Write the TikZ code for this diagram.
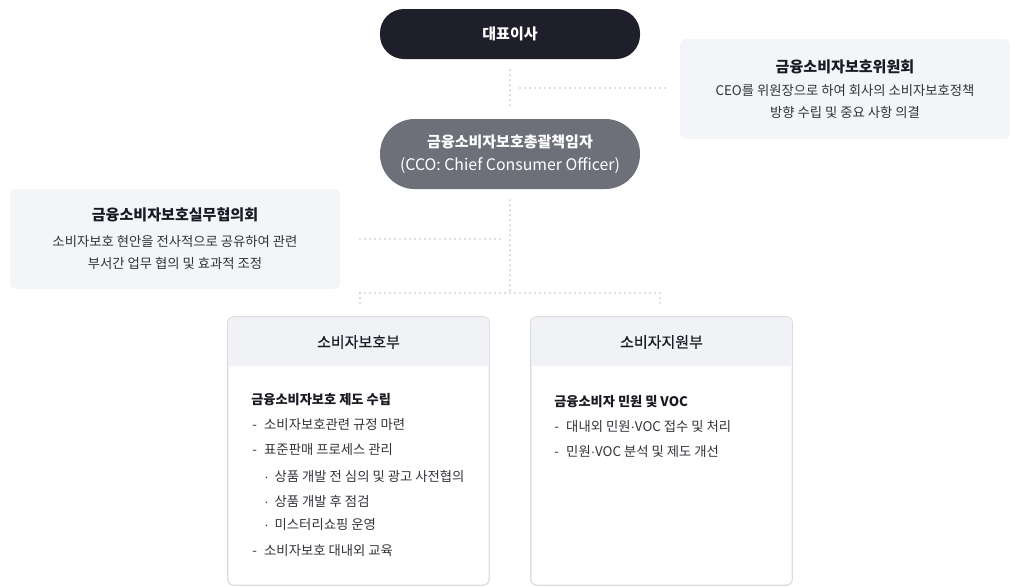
\documentclass[tikz,border=0pt]{standalone}
\usepackage{fontspec}
\setmainfont{Noto Sans CJK KR}
\newfontfamily\medfont[FakeBold=0.5]{Noto Sans CJK KR}
\newfontfamily\markfont{Liberation Sans}
\newcommand{\mdot}{{\markfont ·}}
\usetikzlibrary{positioning}
\definecolor{CeoDark}{RGB}{30,31,43}
\definecolor{CcoGray}{RGB}{110,112,121}
\definecolor{PanelFill}{RGB}{244,245,248}
\definecolor{HeadFill}{RGB}{241,242,246}
\definecolor{EdgeGray}{RGB}{220,221,226}
\definecolor{DotGray}{RGB}{210,211,216}
\definecolor{TitleInk}{RGB}{26,27,34}
\definecolor{BodyInk}{RGB}{50,51,58}

\begin{document}
\begin{tikzpicture}[x=0.75pt,y=-0.75pt,
    pill/.style={rounded corners=18pt,minimum width=195pt,text=white,
                 align=center,inner sep=0pt},
    panel/.style={fill=PanelFill,rounded corners=4.5pt,
                  minimum width=247.5pt,minimum height=75pt,inner sep=0pt},
    dept/.style={draw=EdgeGray,line width=0.6pt,rounded corners=4.5pt,
                 minimum width=195.75pt,minimum height=201pt,inner sep=0pt},
    ptitle/.style={font=\fontsize{11.3}{12}\selectfont\bfseries,text=TitleInk},
    pdesc/.style={font=\fontsize{10}{16.5}\selectfont,text=BodyInk,align=center},
    htitle/.style={font=\fontsize{11.25}{13}\selectfont\medfont,text=TitleInk},
    item/.style={anchor=west,inner sep=0pt,font=\fontsize{10}{12}\selectfont,text=BodyInk},
    ititle/.style={anchor=west,inner sep=0pt,font=\fontsize{9.9}{12}\selectfont\bfseries,text=TitleInk},
    dotline/.style={DotGray,line width=1.6pt,line cap=round,
                    dash pattern=on 0pt off 3.75pt}]
  \useasboundingbox (0,0) rectangle (1020,586);

  % top of the chart
  \node[pill,fill=CeoDark,minimum height=37.5pt,
        font=\fontsize{11.25}{13}\selectfont\bfseries] (ceo) at (510,34) {대표이사};
  \node[pill,fill=CcoGray,minimum height=52.5pt,rounded corners=26pt,
        font=\fontsize{11.25}{17}\selectfont] (cco) at (510,154)
        {\textbf{금융소비자보호총괄책임자}\\{\fontsize{11.9}{17}\selectfont(CCO: Chief Consumer Officer)}};

  % committees
  \node[panel] (cmte) at (845,89) {};
  \node[ptitle] (cmtet) at (845,67) {금융소비자보호위원회};
  \node[pdesc] (cmted) at (845,102) {CEO를 위원장으로 하여 회사의 소비자보호정책\\방향 수립 및 중요 사항 의결};
  \node[panel] (cncl) at (175,239) {};
  \node[ptitle] (cnclt) at (175,215) {금융소비자보호실무협의회};
  \node[pdesc] (cncld) at (175,253) {소비자보호 현안을 전사적으로 공유하여 관련\\부서간 업무 협의 및 효과적 조정};

  % departments
  \node[dept] (dep1) at (358.5,451) {};
  \node[dept] (dep2) at (661.5,451) {};
  \foreach \d in {dep1,dep2}{
    \begin{scope}
      \clip[rounded corners=4.5pt] (\d.south west) rectangle (\d.north east);
      \fill[HeadFill] (\d.north west) rectangle ([yshift=-36.75pt]\d.north east);
    \end{scope}
    \draw[EdgeGray,line width=0.6pt,rounded corners=4.5pt]
      (\d.south west) rectangle (\d.north east);
  }
  \node[htitle] (h1) at (358.5,342) {소비자보호부};
  \node[htitle] (h2) at (661.5,342) {소비자지원부};

  \node[ititle] (a0) at (251,400) {금융소비자보호 제도 수립};
  \node[item] (a1) at (252,425) {-\hspace{5.5pt}소비자보호관련 규정 마련};
  \node[item] (a2) at (252,450) {-\hspace{5.5pt}표준판매 프로세스 관리};
  \node[item] (a3) at (264,476) {\mdot\hspace{4.5pt}상품 개발 전 심의 및 광고 사전협의};
  \node[item] (a4) at (264,501) {\mdot\hspace{4.5pt}상품 개발 후 점검};
  \node[item] (a5) at (264,525) {\mdot\hspace{4.5pt}미스터리쇼핑 운영};
  \node[item] (a6) at (252,551) {-\hspace{5.5pt}소비자보호 대내외 교육};

  \node[ititle] (b0) at (554,402) {금융소비자 민원 및 VOC};
  \node[item] (b1) at (554,427) {-\hspace{5.5pt}대내외 민원\mdot VOC 접수 및 처리};
  \node[item] (b2) at (554,451) {-\hspace{5.5pt}민원\mdot VOC 분석 및 제도 개선};

  % dotted links
  \coordinate (j1) at (510,88);
  \coordinate (j2) at (510,239);
  \coordinate (j3) at (510,293);
  \coordinate (j4) at (360,293);
  \coordinate (j5) at (660,293);
  \draw[dotline,shorten <=8.25pt,shorten >=6.75pt] (ceo) -- (cco);
  \draw[dotline,shorten <=7.5pt,shorten >=9pt] (j1) -- (cmte.west |- j1);
  \draw[dotline,shorten <=8.25pt] (cco) -- (j3);
  \draw[dotline,shorten <=7.5pt,shorten >=11.25pt] (j2) -- (cncl.east |- j2);
  \draw[dotline] (j4) -- (j5);
  \draw[dotline,shorten >=7.5pt] (j4) -- (dep1.north -| j4);
  \draw[dotline,shorten >=7.5pt] (j5) -- (dep2.north -| j5);
\end{tikzpicture}
\end{document}
